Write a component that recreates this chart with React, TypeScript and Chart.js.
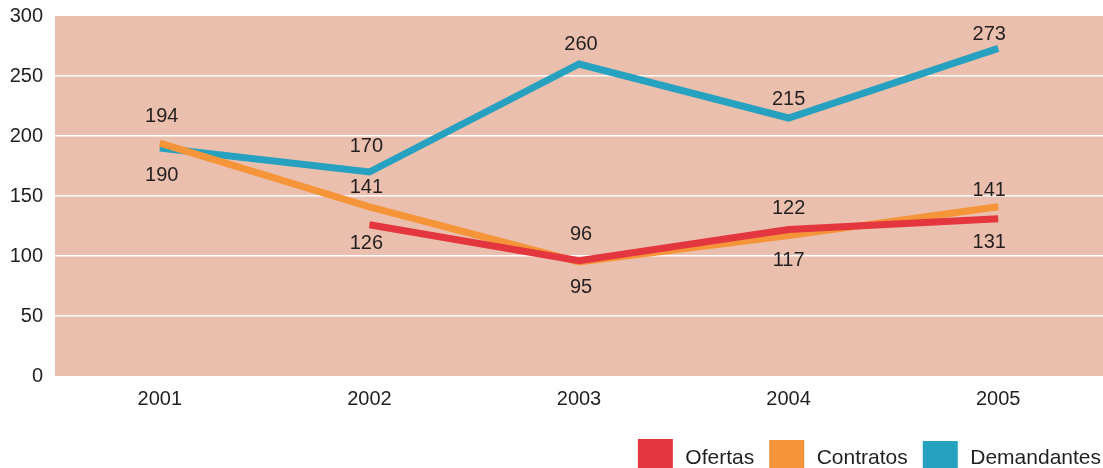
import React, { useEffect, useRef } from "react";
import { Chart, registerables } from "chart.js";

Chart.register(...registerables);

// ---- data ----
const years: string[] = ["2001", "2002", "2003", "2004", "2005"];
const ofertas: (number | null)[] = [null, 126, 96, 122, 131];
const contratos: number[] = [194, 141, 95, 117, 141];
const demandantes: number[] = [190, 170, 260, 215, 273];
const seriesNames: string[] = ["Ofertas", "Contratos", "Demandantes"];

// ---- styles ----
const seriesColors: string[] = ["#e3363f", "#f59438", "#26a1bf"];
const plotBg = "#ebbfad";
const textColor = "#231f20";
const fontFamily = "'Liberation Sans', Arial, Helvetica, sans-serif";
// value label offsets (pixels, relative to point)
const ofertasLabelDy: number[] = [0, 19, -26, -21, 24];
const contratosLabelDy: number[] = [-27, -19, 25, 25, -16];
const demandantesLabelDy: number[] = [27, -26, -20, -19, -14];
const labelDx: number[] = [2, -3, 2, 0, -9];

const labelDys = [ofertasLabelDy, contratosLabelDy, demandantesLabelDy];

const bgPlugin = {
  id: "plotBg",
  beforeDraw(chart: any) {
    const { ctx, chartArea } = chart;
    ctx.save();
    ctx.fillStyle = plotBg;
    ctx.fillRect(chartArea.left, chartArea.top, chartArea.right - chartArea.left, chartArea.bottom - chartArea.top);
    ctx.restore();
  },
};

const valueLabelPlugin = {
  id: "valueLabels",
  afterDatasetsDraw(chart: any) {
    const { ctx } = chart;
    ctx.save();
    ctx.font = `20px ${fontFamily}`;
    ctx.fillStyle = textColor;
    ctx.textAlign = "center";
    ctx.textBaseline = "middle";
    chart.data.datasets.forEach((ds: any, i: number) => {
      const meta = chart.getDatasetMeta(i);
      meta.data.forEach((pt: any, j: number) => {
        const v = ds.data[j];
        if (v === null || v === undefined) return;
        ctx.fillText(String(v), pt.x + labelDx[j], pt.y + labelDys[i][j]);
      });
    });
    ctx.restore();
  },
};

const legendPlugin = {
  id: "customLegend",
  afterDraw(chart: any) {
    const { ctx } = chart;
    ctx.save();
    ctx.font = `21px ${fontFamily}`;
    ctx.textBaseline = "alphabetic";
    ctx.textAlign = "left";
    const boxW = 35;
    const gap = 12.5;
    const itemGap = 15;
    const widths = seriesNames.map((n) => ctx.measureText(n).width);
    const total = widths.reduce((a, w) => a + boxW + gap + w, 0) + itemGap * (seriesNames.length - 1);
    let x = 1101 - total;
    const boxTop = [439, 440, 441];
    seriesNames.forEach((name, i) => {
      ctx.fillStyle = seriesColors[i];
      ctx.fillRect(x, boxTop[i], boxW, 40);
      x += boxW + gap;
      ctx.fillStyle = textColor;
      ctx.fillText(name, x, 464);
      x += widths[i] + itemGap;
    });
    ctx.restore();
  },
};

export default function App() {
  const canvasRef = useRef<HTMLCanvasElement | null>(null);

  useEffect(() => {
    const canvas = canvasRef.current;
    if (!canvas) return;
    const data = [ofertas, contratos, demandantes];
    const chart = new Chart(canvas, {
      type: "line",
      data: {
        labels: years,
        datasets: seriesNames.map((name, i) => ({
          label: name,
          data: data[i] as any,
          borderColor: seriesColors[i],
          backgroundColor: seriesColors[i],
          borderWidth: 7,
          borderCapStyle: "butt" as const,
          borderJoinStyle: "miter" as const,
          pointRadius: 0,
          pointHoverRadius: 0,
          tension: 0,
          fill: false,
          spanGaps: false,
        })),
      },
      options: {
        animation: false,
        responsive: false,
        devicePixelRatio: 1,
        events: [],
        layout: { padding: { top: 16, left: 0, right: 0, bottom: 0 } },
        plugins: {
          legend: { display: false },
          tooltip: { enabled: false },
          title: { display: false },
        },
        scales: {
          x: {
            type: "category",
            offset: true,
            grid: { display: false, drawTicks: false },
            border: { display: false },
            ticks: {
              color: textColor,
              font: { family: fontFamily, size: 20 },
              padding: 11,
              maxRotation: 0,
            },
            afterFit(scale: any) {
              scale.height = 92;
              scale.paddingLeft = 0;
              scale.paddingRight = 0;
            },
          },
          y: {
            min: 0,
            max: 300,
            border: { display: false },
            grid: {
              drawTicks: false,
              lineWidth: 1.5,
              color: (c: any) =>
                c.tick && (c.tick.value === 0 || c.tick.value === 300) ? "rgba(0,0,0,0)" : "#ffffff",
            },
            ticks: {
              stepSize: 50,
              color: textColor,
              font: { family: fontFamily, size: 20 },
              padding: 12,
            },
            afterFit(scale: any) {
              scale.width = 55;
              scale.paddingTop = 0;
              scale.paddingBottom = 0;
            },
          },
        },
      },
      plugins: [bgPlugin, valueLabelPlugin, legendPlugin],
    });
    return () => chart.destroy();
  }, []);

  return (
    <div style={{ position: "fixed", left: 0, top: 0, width: 1103, height: 468, background: "#ffffff" }}>
      <canvas ref={canvasRef} width={1103} height={468} style={{ display: "block", width: 1103, height: 468 }} />
    </div>
  );
}
